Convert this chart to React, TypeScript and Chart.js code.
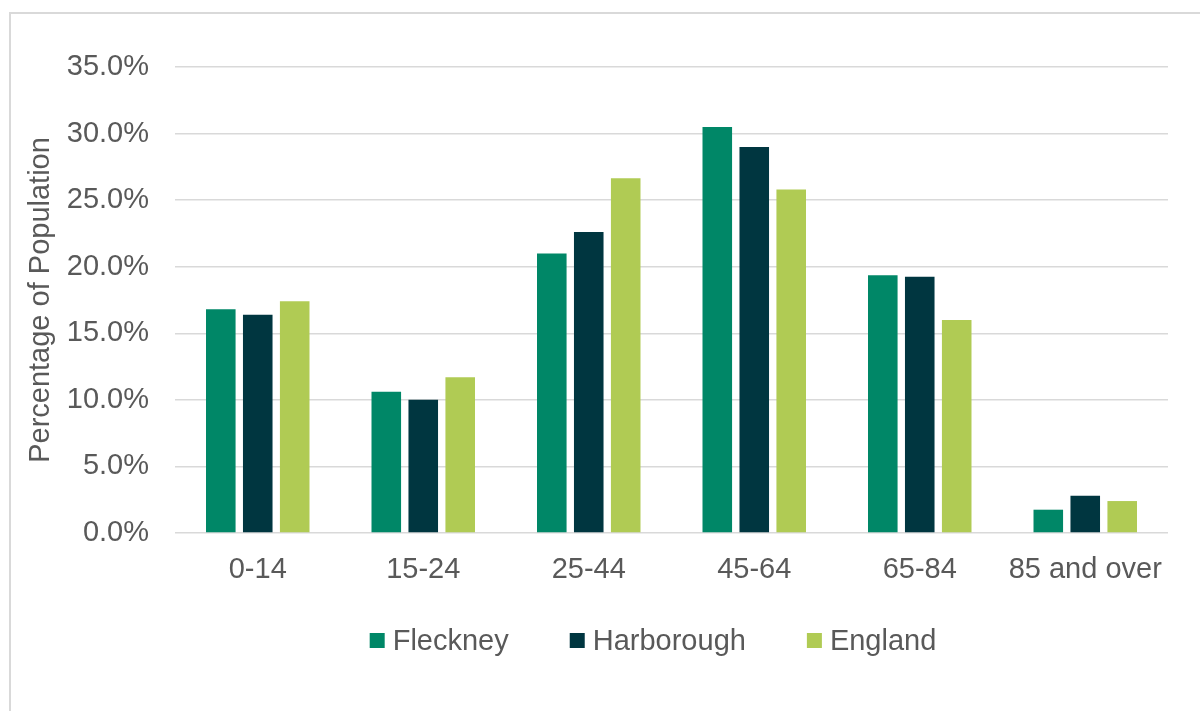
import React, { useEffect, useRef } from "react";
import { Chart, registerables } from "chart.js";

Chart.register(...registerables);

const categories = ["0-14", "15-24", "25-44", "45-64", "65-84", "85 and over"];
const fleckney = [16.8, 10.6, 21.0, 30.5, 19.35, 1.75];
const harborough = [16.4, 10.0, 22.6, 29.0, 19.25, 2.8];
const england = [17.4, 11.7, 26.65, 25.8, 16.0, 2.4];
const seriesNames = ["Fleckney", "Harborough", "England"];
const seriesColors = ["#008767", "#003640", "#B0CB54"];

const FONT = '"Liberation Sans", Arial, sans-serif';
const TEXT = "#595959";

const legendPlugin = {
  id: "customLegend",
  afterDraw(chart: any) {
    const ctx = chart.ctx as CanvasRenderingContext2D;
    ctx.save();
    ctx.font = `29px ${FONT}`;
    const items = chart.data.datasets.map((ds: any) => ({
      label: ds.label as string,
      color: ds.backgroundColor as string,
      w: ctx.measureText(ds.label).width,
    }));
    const box = 15;
    const gapText = 8;
    const gapItem = 61;
    const total =
      items.reduce((s: number, it: any) => s + box + gapText + it.w, 0) +
      gapItem * (items.length - 1);
    let x = 653 - total / 2;
    const baseY = 650;
    ctx.textBaseline = "alphabetic";
    ctx.textAlign = "left";
    for (const it of items) {
      ctx.fillStyle = it.color;
      ctx.fillRect(x, 633, box, 15);
      ctx.fillStyle = TEXT;
      ctx.fillText(it.label, x + box + gapText, baseY);
      x += box + gapText + it.w + gapItem;
    }
    ctx.restore();
  },
};

export default function App() {
  const ref = useRef<HTMLCanvasElement | null>(null);

  useEffect(() => {
    if (!ref.current) return;
    const data = [fleckney, harborough, england];
    const chart = new Chart(ref.current, {
      type: "bar",
      data: {
        labels: categories,
        datasets: seriesNames.map((name, i) => ({
          label: name,
          data: data[i],
          backgroundColor: seriesColors[i],
          borderWidth: 0,
          categoryPercentage: 0.67,
          barPercentage: 0.8,
        })),
      },
      options: {
        animation: false,
        responsive: true,
        maintainAspectRatio: false,
        devicePixelRatio: 1,
        layout: { padding: { left: 0, right: 32, top: 67, bottom: 100 } },
        plugins: {
          legend: { display: false },
          tooltip: { enabled: false },
        },
        scales: {
          x: {
            grid: { display: false, drawTicks: false },
            border: { display: false },
            ticks: {
              color: TEXT,
              font: { family: FONT, size: 29 },
              padding: 20,
              maxRotation: 0,
              autoSkip: false,
            },
            afterFit: (scale: any) => {
              scale.height = 78;
            },
          },
          y: {
            min: 0,
            max: 35,
            ticks: {
              stepSize: 5,
              color: TEXT,
              font: { family: FONT, size: 29 },
              padding: 26,
              callback: (v: any) => Number(v).toFixed(1) + "%",
            },
            grid: { color: "#D9D9D9", lineWidth: 1.5, drawTicks: false },
            border: { display: false },
            title: {
              display: true,
              text: "Percentage of Population",
              color: TEXT,
              font: { family: FONT, size: 29 },
              padding: { top: 24, bottom: 0 },
            },
            afterFit: (scale: any) => {
              scale.width = 175;
            },
          },
        },
      },
      plugins: [legendPlugin],
    });
    return () => chart.destroy();
  }, []);

  return (
    <div
      style={{
        position: "fixed",
        left: 0,
        top: 0,
        width: 1200,
        height: 711,
        overflow: "hidden",
        background: "#fff",
      }}
    >
      <div
        style={{
          position: "absolute",
          left: 9,
          top: 12,
          width: 1400,
          height: 900,
          border: "2px solid #D9D9D9",
        }}
      />
      <div style={{ position: "absolute", left: 0, top: 0, width: 1200, height: 711 }}>
        <canvas ref={ref} />
      </div>
    </div>
  );
}
